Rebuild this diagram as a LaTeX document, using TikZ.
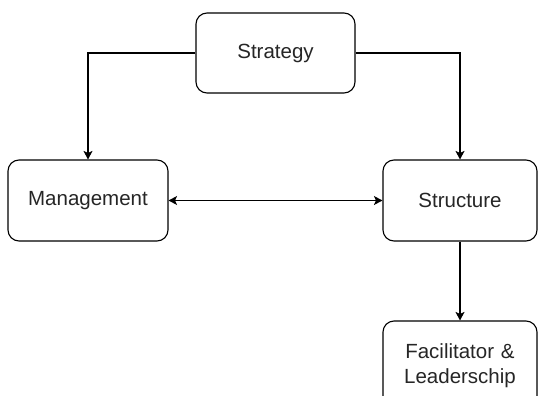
\documentclass[tikz,border=0pt]{standalone}
\usepackage{fontspec}
\setmainfont{Liberation Sans}
\usetikzlibrary{arrows.meta}
\begin{document}
\begin{tikzpicture}[x=1pt,y=-1pt,
  box/.style={draw=black,line width=1.1pt,rounded corners=11pt,fill=white,
    inner sep=0pt,align=center,text=black!85,
    font=\fontsize{20.5}{25}\selectfont},
  tip/.style={Stealth[length=8.5pt,width=9pt,inset=2pt]},
  link/.style={draw=black,line width=1.1pt,-{Stealth[length=8.5pt,width=9pt,inset=2pt]}},
  both/.style={draw=black,line width=1.1pt,{Stealth[length=8.5pt,width=9pt,inset=2pt]}-{Stealth[length=8.5pt,width=9pt,inset=2pt]}}]
\useasboundingbox (0,0) rectangle (538,396);
\clip (0,0) rectangle (538,396);
% boxes
\node[box,minimum width=159pt,minimum height=80pt] (strategy) at (275.5,53) {Strategy};
\node[box,minimum width=160pt,minimum height=81pt] (management) at (88,200.5) {Management};
\node[box,minimum width=154pt,minimum height=81pt] (structure) at (460,200.5) {Structure};
\node[box,minimum width=154pt,minimum height=90pt,text width=150pt] (leader) at (460,366) {Facilitator \&\\Leaderschip};
% connectors
\draw[link] (strategy.west) -| (management.north);
\draw[link] (strategy.east) -| (structure.north);
\draw[both] (management.east) -- (structure.west);
\draw[link] (structure.south) -- (leader.north);
\end{tikzpicture}
\end{document}
